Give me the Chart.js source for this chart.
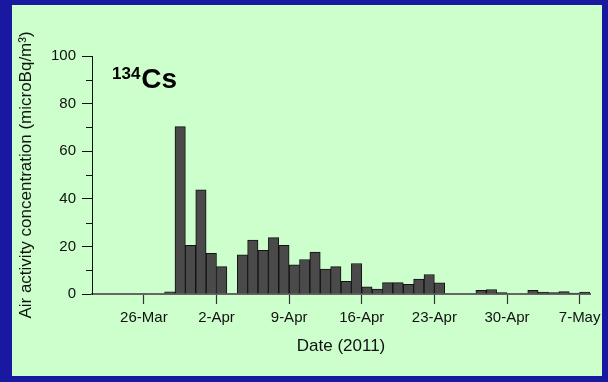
<!DOCTYPE html>
<html>
<head>
<meta charset="utf-8">
<script src="https://cdn.jsdelivr.net/npm/chart.js@4"></script>
<style>
  html, body { margin: 0; padding: 0; background: #1818a0; overflow: hidden; }
  #panel { position: absolute; left: 12px; top: 5px; width: 590px; height: 371px; background: #ccffcc; }
  #wrap { position: absolute; left: 0; top: 0; width: 608px; height: 382px; }
</style>
</head>
<body>
<div id="panel"></div>
<div id="wrap"><canvas id="c"></canvas></div>
<script>
// Daily 134Cs air activity, spring 2011 (microBq/m3)
const sampleDates = [
  '28-Mar', '29-Mar', '30-Mar', '31-Mar', '1-Apr', '2-Apr',
  '4-Apr', '5-Apr', '6-Apr', '7-Apr', '8-Apr', '9-Apr', '10-Apr', '11-Apr',
  '12-Apr', '13-Apr', '14-Apr', '15-Apr', '16-Apr', '17-Apr', '18-Apr',
  '19-Apr', '20-Apr', '21-Apr', '22-Apr', '23-Apr',
  '27-Apr', '28-Apr', '29-Apr',
  '2-May', '3-May', '4-May', '5-May', '6-May', '7-May'
];
const cs134 = [
  0.9, 70.3, 20.4, 43.8, 17.1, 11.5,
  16.5, 22.7, 18.3, 23.7, 20.5, 12.3, 14.5, 17.6,
  10.5, 11.5, 5.3, 12.8, 3.0, 2.1, 4.8,
  4.8, 4.1, 6.3, 8.2, 4.7,
  1.5, 1.9, 0.6,
  1.5, 0.8, 0.6, 1.0, 0.4, 0.8
];
const xTickLabels = ['26-Mar', '2-Apr', '9-Apr', '16-Apr', '23-Apr', '30-Apr', '7-May'];
const yMajorTicks = [0, 20, 40, 60, 80, 100];
const yMinorTicks = [10, 30, 50, 70, 90];
const xStart = '21-Mar';
const xEnd = '8-May';

const monthStart = { Jan: 0, Feb: 31, Mar: 59, Apr: 90, May: 120, Jun: 151 };
function dayOfYear(label) {
  const [d, m] = label.split('-');
  return monthStart[m] + Number(d);
}

// each sample covers one full day, so the bar sits between midnight and midnight
const points = sampleDates.map((d, i) => ({ x: dayOfYear(d) + 0.5, y: cs134[i] }));
const tickDays = xTickLabels.map(dayOfYear);

const FONT = '"Liberation Sans", Arial, Helvetica, sans-serif';

const minorTicks = {
  id: 'minorTicks',
  afterDraw(chart) {
    const { ctx } = chart;
    const y = chart.scales.y;
    ctx.save();
    ctx.strokeStyle = '#111';
    ctx.lineWidth = 1;
    yMinorTicks.forEach(v => {
      const py = Math.round(y.getPixelForValue(v)) + 0.5;
      ctx.beginPath();
      ctx.moveTo(y.right - 6, py);
      ctx.lineTo(y.right, py);
      ctx.stroke();
    });
    ctx.restore();
  }
};

const isotopeLabel = {
  id: 'isotopeLabel',
  afterDraw(chart) {
    const { ctx, chartArea } = chart;
    const x0 = chartArea.left + 20;
    const base = chartArea.top + 32;
    ctx.save();
    ctx.fillStyle = '#000';
    ctx.textBaseline = 'alphabetic';
    ctx.font = 'bold 17px ' + FONT;
    ctx.fillText('134', x0, base - 9);
    const w = ctx.measureText('134').width;
    ctx.font = 'bold 28px ' + FONT;
    ctx.fillText('Cs', x0 + w + 1, base);
    ctx.restore();
  }
};

new Chart(document.getElementById('c'), {
  type: 'bar',
  data: {
    datasets: [{
      data: points,
      backgroundColor: '#4a4a4a',
      borderColor: '#111',
      borderWidth: 1,
      barPercentage: 1,
      categoryPercentage: 1
    }]
  },
  options: {
    responsive: true,
    maintainAspectRatio: false,
    animation: false,
    layout: { padding: { left: 0, right: 18, top: 56, bottom: 0 } },
    plugins: { legend: { display: false }, tooltip: { enabled: false } },
    scales: {
      x: {
        type: 'linear',
        offset: false,
        min: dayOfYear(xStart),
        max: dayOfYear(xEnd),
        afterBuildTicks(scale) { scale.ticks = tickDays.map(v => ({ value: v })); },
        afterFit(scale) { scale.height = 88; },
        grid: { offset: false, drawOnChartArea: false, drawTicks: true, tickLength: 10, tickColor: '#333', tickWidth: 1.2 },
        border: { color: '#666', width: 2 },
        ticks: {
          autoSkip: false, maxRotation: 0, padding: 5,
          color: '#111', font: { family: FONT, size: 15 },
          callback: v => xTickLabels[tickDays.indexOf(v)] ?? ''
        },
        title: {
          display: true, text: 'Date (2011)', color: '#111',
          font: { family: FONT, size: 17 }, padding: { top: 0, bottom: 25 }
        }
      },
      y: {
        min: 0, max: 100,
        afterBuildTicks(scale) { scale.ticks = yMajorTicks.map(v => ({ value: v })); },
        afterFit(scale) { scale.width = 92; },
        grid: { drawOnChartArea: false, drawTicks: true, tickLength: 10, tickColor: '#111' },
        border: { color: '#111', width: 1 },
        ticks: { padding: 6, color: '#111', font: { family: FONT, size: 15 } },
        title: {
          display: true, text: 'Air activity concentration (microBq/m³)', color: '#111',
          font: { family: FONT, size: 17 }, padding: { top: 16, bottom: 0 }
        }
      }
    }
  },
  plugins: [minorTicks, isotopeLabel]
});
</script>
</body>
</html>
